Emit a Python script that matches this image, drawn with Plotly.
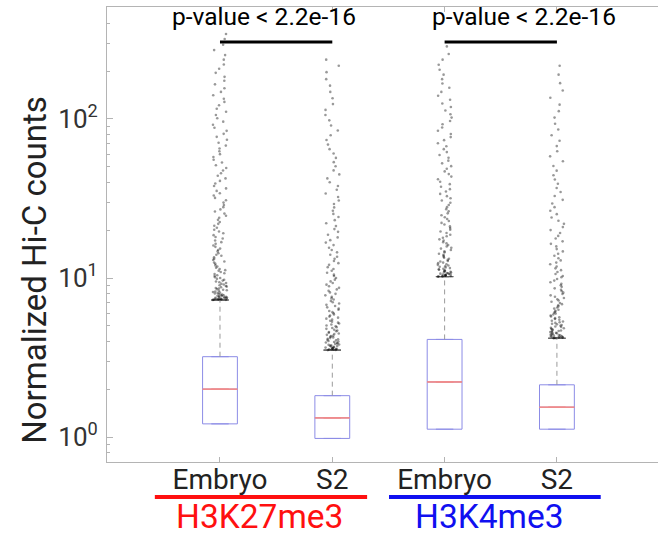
import math
import plotly.graph_objects as go

# ---------------- data ----------------
conditions = ["Embryo", "S2", "Embryo", "S2"]
groups = ["H3K27me3", "H3K4me3"]
group_colors = ["#ff1010", "#1010f0"]

q1 = [1.21, 0.98, 1.12, 1.12]
median = [2.00, 1.32, 2.22, 1.54]
q3 = [3.20, 1.82, 4.11, 2.13]
upper_fence = [7.27, 3.52, 10.2, 4.18]
lower_fence = [1.21, 0.98, 1.12, 1.12]

out_emb_k27 = [
    7.28, 7.29, 7.31, 7.32, 7.34, 7.35, 7.37, 7.39, 7.41, 7.43, 7.45, 7.48, 7.5, 7.53, 7.56,
    7.59, 7.62, 7.66, 7.7, 7.74, 7.79, 7.83, 7.88, 7.94, 7.99, 8.05, 8.1, 8.17, 8.23, 8.3,
    8.37, 8.43, 8.51, 8.58, 8.66, 8.74, 8.83, 8.91, 9.0, 9.1, 9.19, 9.3, 9.4, 9.51, 9.63,
    9.75, 9.88, 10.0, 10.1, 10.3, 10.4, 10.6, 10.7, 10.9, 11.1, 11.2, 11.4, 11.6, 11.8, 12.0,
    12.3, 12.5, 12.7, 13.0, 13.2, 13.5, 13.8, 14.0, 14.3, 14.7, 15.0, 15.3, 15.7, 16.0, 16.4,
    16.8, 17.2, 17.7, 18.1, 18.6, 19.1, 19.6, 20.1, 20.7, 21.3, 21.9, 22.5, 23.2, 23.9, 24.6,
    25.4, 26.2, 27.0, 27.9, 28.8, 29.8, 30.8, 31.9, 33.0, 34.1, 35.3, 36.6, 37.9, 39.3, 40.8,
    42.3, 43.9, 45.6, 47.4, 49.2, 51.2, 53.2, 55.4, 57.7, 60.1, 62.6, 65.2, 68.0, 70.9, 74.0,
    77.2, 80.6, 84.2, 88.0, 92.0, 96.2, 101, 106, 111, 116, 122, 128, 134, 141, 148, 156, 165,
    174, 184, 195, 207, 220, 236, 252, 271, 293, 318, 342]
out_s2_k27 = [
    3.52, 3.53, 3.54, 3.55, 3.56, 3.58, 3.59, 3.6, 3.62, 3.63, 3.65, 3.67, 3.69, 3.71, 3.73,
    3.75, 3.77, 3.8, 3.82, 3.85, 3.87, 3.9, 3.93, 3.96, 3.99, 4.02, 4.05, 4.08, 4.12, 4.15,
    4.19, 4.23, 4.27, 4.31, 4.35, 4.39, 4.44, 4.48, 4.53, 4.58, 4.63, 4.68, 4.73, 4.79, 4.85,
    4.91, 4.97, 5.03, 5.1, 5.17, 5.24, 5.31, 5.39, 5.47, 5.55, 5.63, 5.72, 5.81, 5.9, 6.0,
    6.1, 6.2, 6.31, 6.42, 6.54, 6.66, 6.78, 6.91, 7.04, 7.18, 7.32, 7.47, 7.62, 7.78, 7.95,
    8.12, 8.3, 8.48, 8.67, 8.87, 9.08, 9.3, 9.52, 9.76, 10.0, 10.3, 10.5, 10.8, 11.1, 11.4,
    11.7, 12.1, 12.4, 12.8, 13.2, 13.6, 14.0, 14.5, 15.0, 15.5, 16.1, 16.7, 17.3, 18.0, 18.7,
    19.5, 20.3, 21.2, 22.1, 23.1, 24.2, 25.3, 26.5, 27.8, 29.2, 30.7, 32.3, 34.0, 35.9, 37.9,
    40.0, 42.3, 44.8, 47.5, 50.4, 53.5, 56.9, 60.6, 64.6, 69.0, 73.8, 79.0, 84.7, 91.0, 98.0,
    106, 114, 124, 135, 148, 162, 178, 197, 216, 236]
out_emb_k4 = [
    10.2, 10.22, 10.25, 10.27, 10.3, 10.33, 10.36, 10.4, 10.43, 10.47, 10.51, 10.56, 10.6,
    10.65, 10.7, 10.76, 10.82, 10.88, 10.95, 11.02, 11.1, 11.18, 11.26, 11.35, 11.44, 11.54,
    11.64, 11.75, 11.86, 11.98, 12.1, 12.2, 12.4, 12.5, 12.7, 12.8, 13.0, 13.2, 13.4, 13.6,
    13.8, 14.0, 14.2, 14.5, 14.7, 15.0, 15.3, 15.5, 15.8, 16.1, 16.5, 16.8, 17.2, 17.5, 17.9,
    18.3, 18.7, 19.2, 19.6, 20.1, 20.6, 21.1, 21.7, 22.2, 22.8, 23.5, 24.1, 24.8, 25.5, 26.3,
    27.1, 27.9, 28.8, 29.7, 30.7, 31.7, 32.7, 33.8, 35.0, 36.2, 37.5, 38.9, 40.3, 41.8, 43.4,
    45.0, 46.8, 48.6, 50.5, 52.6, 54.7, 57.0, 59.4, 61.9, 64.6, 67.4, 70.4, 73.6, 76.9, 80.5,
    84.3, 88.3, 92.6, 97.1, 102, 107, 113, 119, 125, 132, 140, 148, 157, 167, 178, 190, 204,
    219, 236, 256, 286]
out_s2_k4 = [
    4.18, 4.19, 4.2, 4.22, 4.23, 4.25, 4.26, 4.28, 4.3, 4.32, 4.34, 4.36, 4.38, 4.41, 4.43,
    4.46, 4.49, 4.52, 4.55, 4.58, 4.61, 4.64, 4.68, 4.71, 4.75, 4.79, 4.83, 4.87, 4.92, 4.96,
    5.01, 5.06, 5.11, 5.16, 5.22, 5.27, 5.33, 5.39, 5.46, 5.52, 5.59, 5.66, 5.73, 5.81, 5.89,
    5.97, 6.05, 6.14, 6.23, 6.32, 6.42, 6.52, 6.63, 6.74, 6.85, 6.97, 7.09, 7.22, 7.35, 7.49,
    7.63, 7.78, 7.93, 8.09, 8.26, 8.43, 8.61, 8.8, 9.0, 9.2, 9.41, 9.63, 9.86, 10.1, 10.3,
    10.6, 10.9, 11.2, 11.5, 11.8, 12.2, 12.5, 12.9, 13.3, 13.8, 14.2, 14.7, 15.2, 15.8, 16.4,
    17.0, 17.7, 18.4, 19.2, 20.0, 20.9, 21.9, 22.9, 24.0, 25.2, 26.5, 27.9, 29.4, 31.0, 32.8,
    34.7, 36.8, 39.1, 41.6, 44.3, 47.3, 50.6, 54.2, 58.2, 62.6, 67.5, 72.9, 79.0, 85.8, 93.4,
    102, 112, 123, 136, 151, 168, 190, 216]
outliers = [out_emb_k27, out_s2_k27, out_emb_k4, out_s2_k4]

ytick_vals = [1, 10, 100]
ytick_text = ["10<sup>0</sup>", "10<sup>1</sup>", "10<sup>2</sup>"]
pvalue_text = "p-value < 2.2e-16"
y_title = "Normalized Hi-C counts"

# ---------------- styles ----------------
FONT = "Roboto"
BOX_W = 0.31
BOX_COLOR = "#8c8ce6"
MED_COLOR = "#f08c8c"
WHISK_COLOR = "#9a9a9a"
AXIS_COLOR = "#b4b4b4"
STRIP_W = 0.125

positions = list(range(len(conditions)))
fig = go.Figure()

# whiskers (dashed) from Q3 to upper fence
wx, wy = [], []
for p, a, b in zip(positions, q3, upper_fence):
    wx += [p, p, None]
    wy += [a, b, None]
fig.add_trace(go.Scatter(x=wx, y=wy, mode="lines", hoverinfo="skip",
                         line=dict(color=WHISK_COLOR, width=1, dash="5px,4px")))


def jitter(k, p):
    # deterministic horizontal scatter of the outlier strip (layout only)
    v = math.sin(k * 12.9898 + p * 78.233) * 43758.5453
    return (v - math.floor(v)) - 0.5


for p, vals in zip(positions, outliers):
    xs = [p + jitter(k, p) * STRIP_W for k in range(len(vals))]
    fig.add_trace(go.Scatter(x=xs, y=vals, mode="markers", hoverinfo="skip",
                             marker=dict(size=2.6, color="rgba(0,0,0,0.4)", line=dict(width=0))))

# staples at upper fence
fig.add_trace(go.Box(x=positions, q1=upper_fence, median=upper_fence, q3=upper_fence,
                     lowerfence=upper_fence, upperfence=upper_fence, width=BOX_W * 0.5,
                     line=dict(color="#666666", width=1), fillcolor="rgba(0,0,0,0)",
                     hoverinfo="skip", boxpoints=False))

# boxes
fig.add_trace(go.Box(x=positions, q1=q1, median=median, q3=q3,
                     lowerfence=lower_fence, upperfence=q3, width=BOX_W,
                     line=dict(color=BOX_COLOR, width=1), fillcolor="rgba(255,255,255,0)",
                     hoverinfo="skip", boxpoints=False))

# medians (red lines)
fig.add_trace(go.Box(x=positions, q1=median, median=median, q3=median,
                     lowerfence=median, upperfence=median, width=BOX_W,
                     line=dict(color=MED_COLOR, width=1), fillcolor="rgba(0,0,0,0)",
                     hoverinfo="skip", boxpoints=False))

shapes = []
annotations = []
# significance bars
for gi in range(len(groups)):
    a, b = positions[2 * gi], positions[2 * gi + 1]
    shapes.append(dict(type="line", xref="x", yref="paper", x0=a, x1=b, y0=0.923, y1=0.923,
                       line=dict(color="black", width=3)))
for tx in (0.39, 2.71):
    annotations.append(dict(x=tx, y=0.943, xref="x", yref="paper", text=pvalue_text,
                            showarrow=False, yanchor="bottom",
                            font=dict(family=FONT, size=24.5, color="black")))

# group underlines and labels
group_spans = [(-0.58, 1.31), (1.505, 3.39)]
group_label_x = [0.355, 2.4]
for g, col, (x0, x1), lx in zip(groups, group_colors, group_spans, group_label_x):
    shapes.append(dict(type="line", xref="x", yref="paper", x0=x0, x1=x1, y0=-0.077, y1=-0.077,
                       line=dict(color=col, width=4)))
    annotations.append(dict(x=lx, y=-0.119, xref="x", yref="paper", text=g, showarrow=False,
                            yanchor="middle", font=dict(family=FONT, size=33.5, color=col)))

# y title
annotations.append(dict(x=-0.131, y=0.422, xref="paper", yref="paper", text=y_title,
                        textangle=-90, showarrow=False, xanchor="center", yanchor="middle",
                        font=dict(family=FONT, size=33, color="#222222")))

minor_vals = [m * 10.0 ** e for e in (-1, 0, 1, 2) for m in range(2, 10)]

fig.update_layout(
    width=658, height=535,
    margin=dict(l=107, r=0, t=7, b=73),
    paper_bgcolor="white", plot_bgcolor="white",
    showlegend=False,
    font=dict(family=FONT, color="#222222"),
    shapes=shapes, annotations=annotations,
    xaxis=dict(range=[-1.006, 3.9], tickmode="array", tickvals=positions, ticktext=conditions,
               showgrid=False, zeroline=False, showline=True, linecolor=AXIS_COLOR, linewidth=1,
               mirror="ticks", ticks="inside", ticklen=5, tickcolor=AXIS_COLOR,
               ticklabelstandoff=-8,
               tickfont=dict(family=FONT, size=28, color="#222222")),
    yaxis=dict(type="log", range=[-0.157, 2.704], tickmode="array", tickvals=ytick_vals,
               ticktext=ytick_text, showgrid=False, zeroline=False, showline=True,
               linecolor=AXIS_COLOR, linewidth=1, ticks="inside", ticklen=6,
               tickcolor=AXIS_COLOR, ticklabelstandoff=3,
               tickfont=dict(family=FONT, size=26, color="#333333"),
               minor=dict(tickmode="array", tickvals=minor_vals, ticks="inside", ticklen=3,
                          tickcolor=AXIS_COLOR, showgrid=False)),
)

fig.write_html("out.html")
